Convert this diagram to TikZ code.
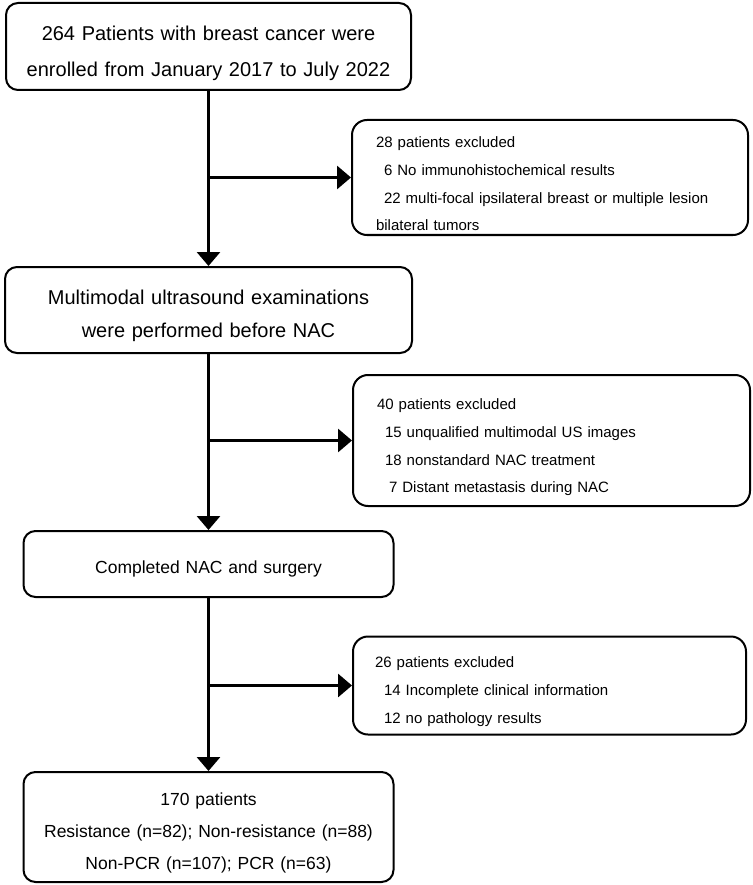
\documentclass[tikz,border=0pt]{standalone}
\usepackage{fontspec}
\setmainfont{Liberation Sans}
\usetikzlibrary{positioning}
\usetikzlibrary{arrows.meta}
\usetikzlibrary{calc}

\begin{document}
\begin{tikzpicture}[
            x = 1pt, y = -1pt, % pixel-like units
            > = {Triangle[length=14pt,width=23pt]}, % arrow head style
            line width = 3pt, % line style
            lift/.style = {execute at begin node={\rule{0pt}{#1}}} % push text down
        ]

        \tikzstyle{mainbox}=[
            draw,
            line width = 2pt,
            rounded corners = 12pt,
            align = center,
            text width = 360pt,
            inner sep = 0pt
        ]
        \tikzstyle{exbox}=[
            draw,
            line width = 2pt,
            rounded corners = 15pt,
            align = left,
            inner xsep = 24pt,
            inner ysep = 0pt,
            font = \fontsize{15}{27.7}\selectfont
        ]

        \useasboundingbox (0,0) rectangle (752,885);

	% main column
        \node[mainbox, lift=28.6pt, text width=395pt, minimum width=405pt, minimum height=87pt, font=\fontsize{20}{36}\selectfont] (Enrol) at (208.5,46.5) {264 Patients with breast cancer were\\enrolled from January 2017 to July 2022};
        \node[mainbox, lift=25.6pt, text width=395pt, minimum width=407pt, minimum height=86pt, font=\fontsize{20}{33}\selectfont] (US) at (208.5,310) {Multimodal ultrasound examinations\\were performed before NAC};
        \node[mainbox, lift=21.8pt, minimum width=370pt, minimum height=66pt, font=\fontsize{17.5}{32}\selectfont] (Surg) at (208.5,564) {Completed NAC and surgery};
        \node[mainbox, lift=23.8pt, minimum width=370pt, minimum height=110pt, font=\fontsize{17.5}{32}\selectfont] (Final) at (208.5,827) {170 patients\\Resistance (n=82); Non-resistance (n=88)\\Non-PCR (n=107); PCR (n=63)};

        % exclusions
        \node[exbox, lift=24pt, text width=348pt, minimum height=115pt] (Ex1) at (550,177.5) {28 patients excluded\\\hspace*{8pt}6 No immunohistochemical results\\\hspace*{8pt}22 multi-focal ipsilateral breast or multiple lesion\\bilateral tumors};
        \node[exbox, lift=25pt, text width=349pt, minimum height=131pt] (Ex2) at (551.5,440.5) {40 patients excluded\\\hspace*{8pt}15 unqualified multimodal US images\\\hspace*{8pt}18 nonstandard NAC treatment\\\hspace*{12pt}7 Distant metastasis during NAC};
        \node[exbox, lift=23pt, text width=349pt, minimum height=98pt, inner xsep=22pt] (Ex3) at (549.5,685.5) {26 patients excluded\\\hspace*{9pt}14 Incomplete clinical information\\\hspace*{9pt}12 no pathology results};

        \coordinate (J1) at (Enrol.south |- Ex1.west);
        \coordinate (J2) at (US.south |- Ex2.west);
        \coordinate (J3) at (Surg.south |- Ex3.west);

        \draw[->] (Enrol) -- (US);
        \draw[->] (US) -- (Surg);
        \draw[->] (Surg) -- (Final);
        \draw[->] (J1) -- (Ex1);
        \draw[->] (J2) -- (Ex2);
        \draw[->] (J3) -- (Ex3);

  \end{tikzpicture}
\end{document}
